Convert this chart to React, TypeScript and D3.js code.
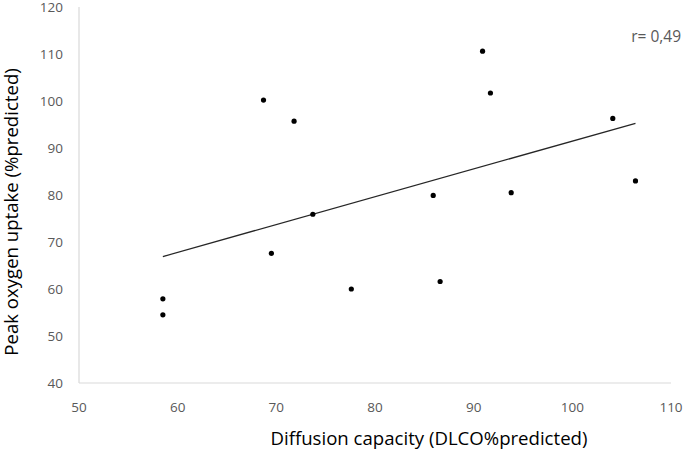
import { scaleLinear, line, range } from 'd3';
import React from 'react';

// values
const dlco = [58.5, 58.5, 68.7, 71.8, 69.5, 73.7, 77.6, 85.9, 86.6, 90.9, 91.7, 93.8, 104.1, 106.4];
const vo2 = [57.9, 54.5, 100.2, 95.7, 67.6, 75.9, 60.0, 79.9, 61.6, 110.6, 101.7, 80.5, 96.3, 83.0];
const xTicks = [50, 60, 70, 80, 90, 100, 110];
const yTicks = [40, 50, 60, 70, 80, 90, 100, 110, 120];
const rLabel = 'r= 0,49';

const width = 685;
const height = 453;
const margin = { top: 7, right: 14, bottom: 70, left: 79 };
const font = '"Open Sans", sans-serif';

const App = () => {
	const innerWidth = width - margin.left - margin.right;
	const innerHeight = height - margin.top - margin.bottom;

	const xScale = scaleLinear().domain([50, 110]).range([0, innerWidth]);
	const yScale = scaleLinear().domain([40, 120]).range([innerHeight, 0]);

	// least squares trend line
	const n = dlco.length;
	const mx = dlco.reduce((a, b) => a + b, 0) / n;
	const my = vo2.reduce((a, b) => a + b, 0) / n;
	let sxy = 0;
	let sxx = 0;
	range(n).forEach(i => {
		sxy += (dlco[i] - mx) * (vo2[i] - my);
		sxx += (dlco[i] - mx) ** 2;
	});
	const slope = sxy / sxx;
	const intercept = my - slope * mx;
	const x0 = Math.min(...dlco);
	const x1 = Math.max(...dlco);
	const trend = line<number>()
		.x(d => xScale(d))
		.y(d => yScale(intercept + slope * d))([x0, x1]);

	return (
		<svg
			width={width}
			height={height}
			style={{ position: 'absolute', left: 0, top: 0, background: '#fff' }}
		>
			<g transform={`translate(${margin.left},${margin.top})`}>
				<line x1={0} x2={0} y1={0} y2={innerHeight} stroke="#d9d9d9" strokeWidth={1.2} />
				<line x1={0} x2={innerWidth} y1={innerHeight} y2={innerHeight} stroke="#d9d9d9" strokeWidth={1.2} />
				{yTicks.map(t => (
					<text
						key={t}
						x={-16}
						y={yScale(t) + (t === 120 ? 0.5 : 0)}
						dy=".35em"
						textAnchor="end"
						fontFamily={font}
						fontSize={13.5}
						fill="#595959"
					>
						{t}
					</text>
				))}
				{xTicks.map(t => (
					<text
						key={t}
						x={xScale(t)}
						y={innerHeight + 29}
						textAnchor="middle"
						fontFamily={font}
						fontSize={13.5}
						fill="#595959"
					>
						{t}
					</text>
				))}
				<path d={trend || ''} fill="none" stroke="#262626" strokeWidth={1.3} />
				{dlco.map((d, i) => (
					<circle key={i} cx={xScale(d)} cy={yScale(vo2[i])} r={2.6} fill="#000" />
				))}
				<text
					x={innerWidth + 10}
					y={yScale(112.5)}
					textAnchor="end"
					fontFamily={font}
					fontSize={15.5}
					fill="#595959"
				>
					{rLabel}
				</text>
			</g>
			<text
				x={429}
				y={445}
				textAnchor="middle"
				fontFamily={font}
				fontSize={18.6}
				fill="#000"
			>
				Diffusion capacity (DLCO%predicted)
			</text>
			<text
				transform="translate(18,212) rotate(-90)"
				textAnchor="middle"
				fontFamily={font}
				fontSize={18.6}
				fill="#000"
			>
				Peak oxygen uptake (%predicted)
			</text>
		</svg>
	);
};

export default App;
